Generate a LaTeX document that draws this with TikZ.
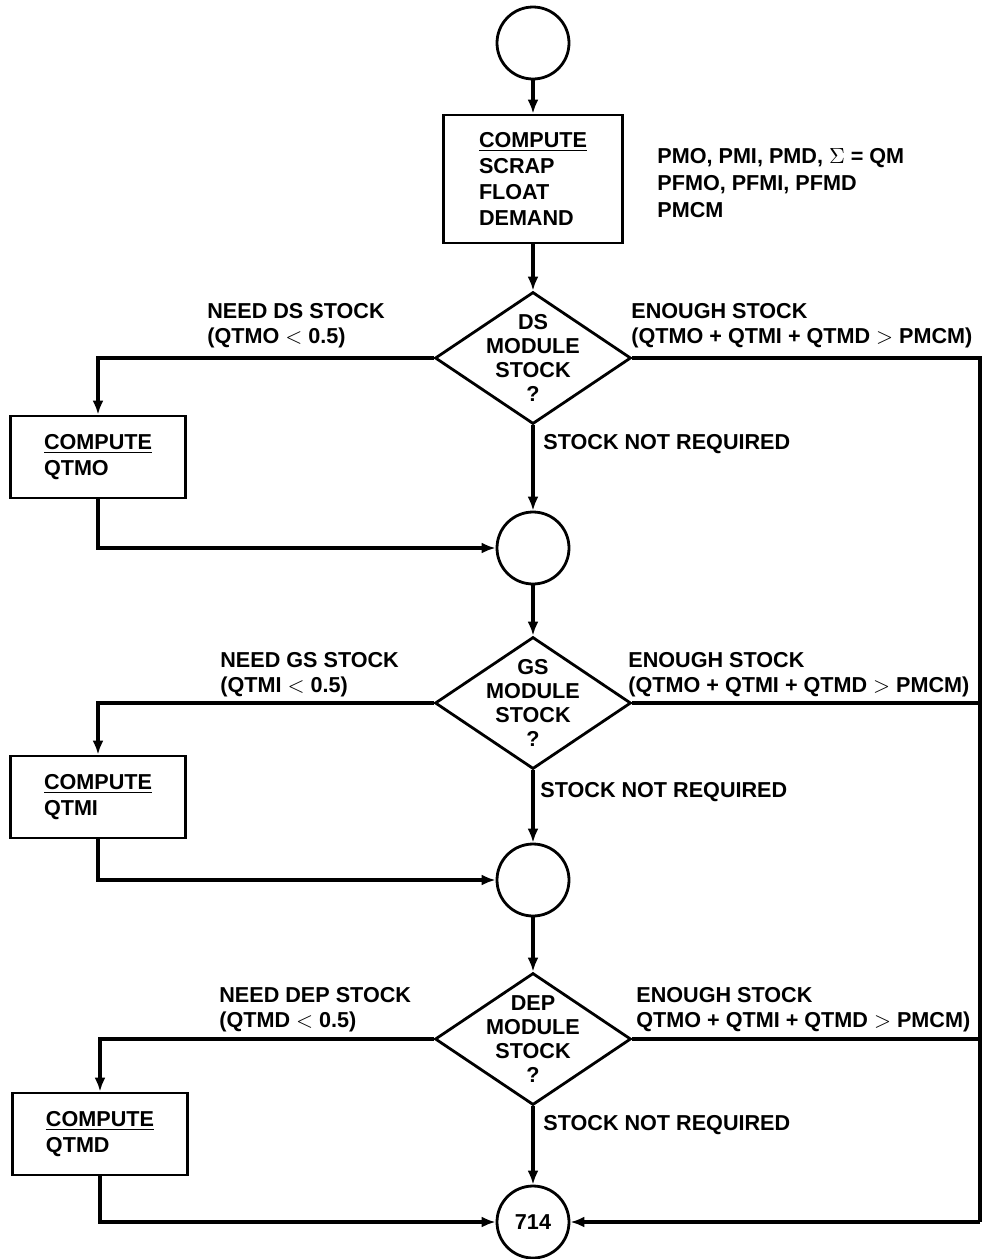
\documentclass[tikz,border=0pt]{standalone}
\usepackage{fontspec}
\setmainfont{Liberation Sans}
\usetikzlibrary{shapes.geometric,arrows.meta}
\tikzset{>={Latex[length=7pt,width=5.5pt]}}
\newcommand{\flowfont}{\fontsize{10.8}{13}\selectfont\bfseries}
\tikzset{
  flow/.style={line width=1.7pt},
  proc/.style={draw, line width=1.4pt, align=left, minimum width=87.5pt, minimum height=41pt, font=\flowfont},
  conn/.style={draw, circle, line width=1.4pt, minimum size=36pt, inner sep=0pt, font=\flowfont},
  decide/.style={draw, diamond, line width=1.4pt, minimum width=98pt, minimum height=66pt, inner sep=0pt},
  dtxt/.style={align=center, inner sep=0pt, font=\fontsize{10.8}{12}\selectfont\bfseries},
  lbl/.style={align=left, anchor=west, inner sep=0pt, font=\fontsize{10.8}{12.5}\selectfont\bfseries}
}
\begin{document}
\begin{tikzpicture}[x=0.5pt,y=-0.5pt]
\useasboundingbox (0,0) rectangle (985,1259);
% main column
\node[conn] (start) at (533,43) {};
\node[proc, minimum width=89.5pt, minimum height=64pt] (scrap) at (533,179) {\underline{COMPUTE}\\SCRAP\\FLOAT\\DEMAND};
\node[lbl, font=\fontsize{10.8}{13.5}\selectfont\bfseries] (outs) at (657,183) {PMO, PMI, PMD, $\Sigma$ = QM\\PFMO, PFMI, PFMD\\PMCM};
\node[decide] (ds) at (533,358) {};
\node[dtxt] (dstxt) at (ds) {DS\\MODULE\\STOCK\\?};
\node[conn] (j1) at (533,548) {};
\node[decide] (gs) at (533,703) {};
\node[dtxt] (gstxt) at (gs) {GS\\MODULE\\STOCK\\?};
\node[conn] (j2) at (533,880) {};
\node[decide] (dep) at (533,1039) {};
\node[dtxt] (deptxt) at (dep) {DEP\\MODULE\\STOCK\\?};
\node[conn] (exit) at (533,1222) {714};
% side boxes
\node[proc] (qtmo) at (98,457) {\underline{COMPUTE}\\QTMO};
\node[proc] (qtmi) at (98,797) {\underline{COMPUTE}\\QTMI};
\node[proc] (qtmd) at (100,1134) {\underline{COMPUTE}\\QTMD};
\coordinate (rail) at (980,1222);
% labels
\node[lbl] (needds) at (207,326) {NEED DS STOCK\\(QTMO $<$ 0.5)};
\node[lbl] (okds) at (631,326) {ENOUGH STOCK\\(QTMO + QTMI + QTMD $>$ PMCM)};
\node[lbl] (nrds) at (543,444) {STOCK NOT REQUIRED};
\node[lbl] (needgs) at (220,675) {NEED GS STOCK\\(QTMI $<$ 0.5)};
\node[lbl] (okgs) at (628,675) {ENOUGH STOCK\\(QTMO + QTMI + QTMD $>$ PMCM)};
\node[lbl] (nrgs) at (540,792) {STOCK NOT REQUIRED};
\node[lbl] (needdep) at (219,1010) {NEED DEP STOCK\\(QTMD $<$ 0.5)};
\node[lbl] (okdep) at (636,1010) {ENOUGH STOCK\\QTMO + QTMI + QTMD $>$ PMCM)};
\node[lbl] (nrdep) at (543,1125) {STOCK NOT REQUIRED};
% connectors
\draw[flow,->] (start) -- (scrap);
\draw[flow,->] (scrap) -- (ds);
\draw[flow,->] (ds) -- (j1);
\draw[flow,->] (j1) -- (gs);
\draw[flow,->] (gs) -- (j2);
\draw[flow,->] (j2) -- (dep);
\draw[flow,->] (dep) -- (exit);
\draw[flow,->] (ds.west) -| (qtmo.north);
\draw[flow,->] (qtmo.south) |- (j1.west);
\draw[flow,->] (gs.west) -| (qtmi.north);
\draw[flow,->] (qtmi.south) |- (j2.west);
\draw[flow,->] (dep.west) -| (qtmd.north);
\draw[flow,->] (qtmd.south) |- (exit.west);
\draw[flow] (ds.east) -| (rail);
\draw[flow] (gs.east) -- (gs.east -| rail);
\draw[flow] (dep.east) -- (dep.east -| rail);
\draw[flow,->] (rail) -- (exit.east);
\end{tikzpicture}
\end{document}
